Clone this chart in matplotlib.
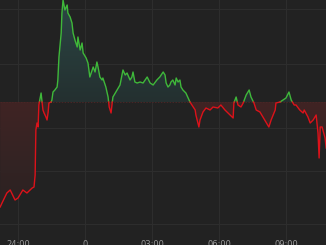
import numpy as np
import matplotlib
matplotlib.use("Agg")
import matplotlib.pyplot as plt
from matplotlib.patches import Polygon
from matplotlib.colors import LinearSegmentedColormap

# minutes from the "24:00" tick, and price
times = [-48, -43, -30, -21, -8, 0, 13, 24, 38, 43, 46, 48, 51, 54, 56, 62, 64, 67, 70, 75,
         78, 81, 83, 89, 91, 94, 99, 105, 107, 110, 116, 118, 121, 126, 132, 134, 140, 145, 148, 153,
         159, 161, 167, 172, 175, 183, 188, 193, 202, 207, 212, 215, 220, 226, 228, 236, 242, 245, 250, 253,
         255, 266, 274, 282, 288, 293, 301, 306, 309, 314, 320, 328, 336, 347, 355, 363, 373, 381, 390, 395,
         398, 403, 408, 411, 416, 422, 425, 430, 435, 438, 443, 451, 462, 476, 478, 486, 489, 497, 505, 516,
         524, 537, 545, 556, 570, 578, 580, 586, 591, 599, 605, 613, 621, 626, 634, 640, 650, 658, 666, 674,
         680, 691, 693, 704, 712, 720, 728, 734, 742, 747, 757, 766, 769, 779, 785, 793, 801, 806, 809, 812,
         817, 825, 828]
prices = [45, 49, 59, 62, 52, 54, 62, 59, 64, 65, 77, 122, 129, 125, 147, 159, 152, 142, 139, 135,
          132, 140, 149, 150, 152, 160, 162, 165, 172, 195, 219, 239, 252, 242, 247, 239, 235, 229, 219, 212,
          205, 215, 202, 209, 199, 194, 189, 175, 185, 180, 190, 185, 175, 172, 174, 165, 155, 145, 139, 149,
          155, 162, 167, 182, 177, 179, 172, 175, 180, 170, 169, 170, 169, 175, 169, 167, 172, 175, 180, 177,
          169, 165, 167, 170, 172, 167, 174, 170, 172, 165, 162, 159, 150, 142, 137, 125, 132, 140, 144, 142,
          145, 144, 147, 142, 137, 134, 149, 155, 147, 145, 149, 157, 162, 155, 149, 142, 140, 135, 130, 125,
          132, 142, 149, 150, 152, 154, 160, 152, 147, 147, 142, 139, 142, 135, 129, 132, 137, 119, 94, 125,
          125, 114, 104]
prev_close = 150

tick_pos = [0, 180, 360, 540, 720]
tick_labels = ["24:00", "0", "03:00", "06:00", "09:00"]
grid_levels = [243, 188, 124, 81, 28]

bg = "#222222"
green = "#3fb83a"
red = "#dc121a"

t = np.array(times, dtype=float)
v = np.array(prices, dtype=float)

# insert the points where the line crosses the previous close
tt, vv = [t[0]], [v[0]]
for i in range(1, len(t)):
    if (v[i - 1] - prev_close) * (v[i] - prev_close) < 0:
        f = (prev_close - v[i - 1]) / (v[i] - v[i - 1])
        tt.append(t[i - 1] + f * (t[i] - t[i - 1]))
        vv.append(prev_close)
    tt.append(t[i])
    vv.append(v[i])
tt = np.array(tt)
vv = np.array(vv)

fig = plt.figure(figsize=(3.26, 2.45), dpi=100, facecolor=bg)
ax = fig.add_axes([0, 0, 1, 1], facecolor=bg)
x0, x1 = -48.4, 827.5
y0, y1 = 7, 252
ax.set_xlim(x0, x1)
ax.set_ylim(y0, y1)

# gradient fills clipped to the area between line and previous close
up_cmap = LinearSegmentedColormap.from_list("up", ["#243030", "#2b4644"])
dn_cmap = LinearSegmentedColormap.from_list("dn", ["#232222", "#402424"])

up_v = np.maximum(vv, prev_close)
up_poly = Polygon(np.column_stack([np.r_[tt, tt[-1], tt[0]], np.r_[up_v, prev_close, prev_close]]),
                  closed=True, facecolor="none", edgecolor="none")
ax.add_patch(up_poly)
grad = np.linspace(0, 1, 100).reshape(-1, 1)
im = ax.imshow(grad, extent=[x0, x1, prev_close, y1], origin="lower", aspect="auto",
               cmap=up_cmap, zorder=1)
im.set_clip_path(up_poly)

dn_v = np.minimum(vv, prev_close)
dn_poly = Polygon(np.column_stack([np.r_[tt, tt[-1], tt[0]], np.r_[dn_v, prev_close, prev_close]]),
                  closed=True, facecolor="none", edgecolor="none")
ax.add_patch(dn_poly)
im2 = ax.imshow(grad, extent=[x0, x1, y0, prev_close], origin="lower", aspect="auto",
                cmap=dn_cmap, zorder=1)
im2.set_clip_path(dn_poly)

for g in grid_levels:
    ax.axhline(g, color="#2d2d2d", lw=0.8, zorder=0.5)
for p in tick_pos:
    ax.axvline(p, color="#2d2d2d", lw=0.8, zorder=0.5)
ax.axhline(prev_close, color="#4a2626", lw=0.7, ls=(0, (1.5, 1.5)), zorder=1.5)

ax.plot(tt, np.where(vv >= prev_close, vv, np.nan), color=green, lw=1.0, zorder=3)
ax.plot(tt, np.where(vv <= prev_close, vv, np.nan), color=red, lw=1.0, zorder=3)

ax.set_xticks(tick_pos)
ax.set_xticklabels(tick_labels)
ax.set_yticks([])
ax.tick_params(axis="x", length=0, pad=-3.5, labelsize=6, labelcolor="#9a9a9a")
for s in ax.spines.values():
    s.set_visible(False)

fig.savefig("out.png", dpi=100, facecolor=bg)
